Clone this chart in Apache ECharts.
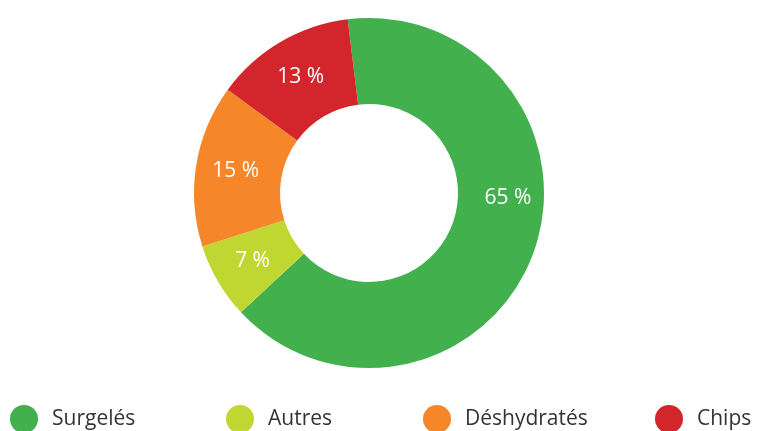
<!DOCTYPE html>
<html>
<head>
<meta charset="utf-8">
<script src="https://cdn.jsdelivr.net/npm/echarts@6/dist/echarts.min.js"></script>
<style>
  html, body { margin: 0; padding: 0; background: #ffffff; }
  #chart { width: 758px; height: 431px; }
</style>
</head>
<body>
<div id="chart"></div>
<script>
// Répartition des usages (en %)
const categories = ['Surgelés', 'Autres', 'Déshydratés', 'Chips'];
const values = [65, 7, 15, 13];
const colors = ['#41b04d', '#c0d732', '#f5862a', '#d2252c'];

const FONT = '"Open Sans", "Noto Sans", sans-serif';

const chart = echarts.init(document.getElementById('chart'), null, { renderer: 'canvas' });

const pieData = categories.map((name, i) => {
  const item = { name: name, value: values[i], itemStyle: { color: colors[i] } };
  // the large slice keeps its label on the horizontal axis, right of the hole
  if (i === 0) item.label = { offset: [12, -41] };
  return item;
});

// one legend block per category, laid out on a fixed grid
const legendLefts = [10, 226, 423, 655];
const legends = categories.map((name, i) => ({
  data: [name],
  left: legendLefts[i],
  top: 405,
  padding: 0,
  orient: 'horizontal',
  icon: 'circle',
  itemWidth: 28,
  itemHeight: 28,
  selectedMode: false,
  textStyle: {
    fontFamily: FONT,
    fontSize: 21,
    color: '#333333',
    padding: [3, 0, 0, 9]
  }
}));

chart.setOption({
  animation: false,
  backgroundColor: '#ffffff',
  legend: legends,
  series: [{
    type: 'pie',
    center: [369, 193],
    radius: [89, 175],
    startAngle: 97,
    clockwise: true,
    avoidLabelOverlap: false,
    label: {
      show: true,
      position: 'inside',
      formatter: p => p.value + ' %',
      color: '#ffffff',
      fontFamily: FONT,
      fontSize: 21,
      fontWeight: 'normal'
    },
    labelLine: { show: false },
    emphasis: { disabled: true },
    data: pieData
  }]
});
</script>
</body>
</html>
